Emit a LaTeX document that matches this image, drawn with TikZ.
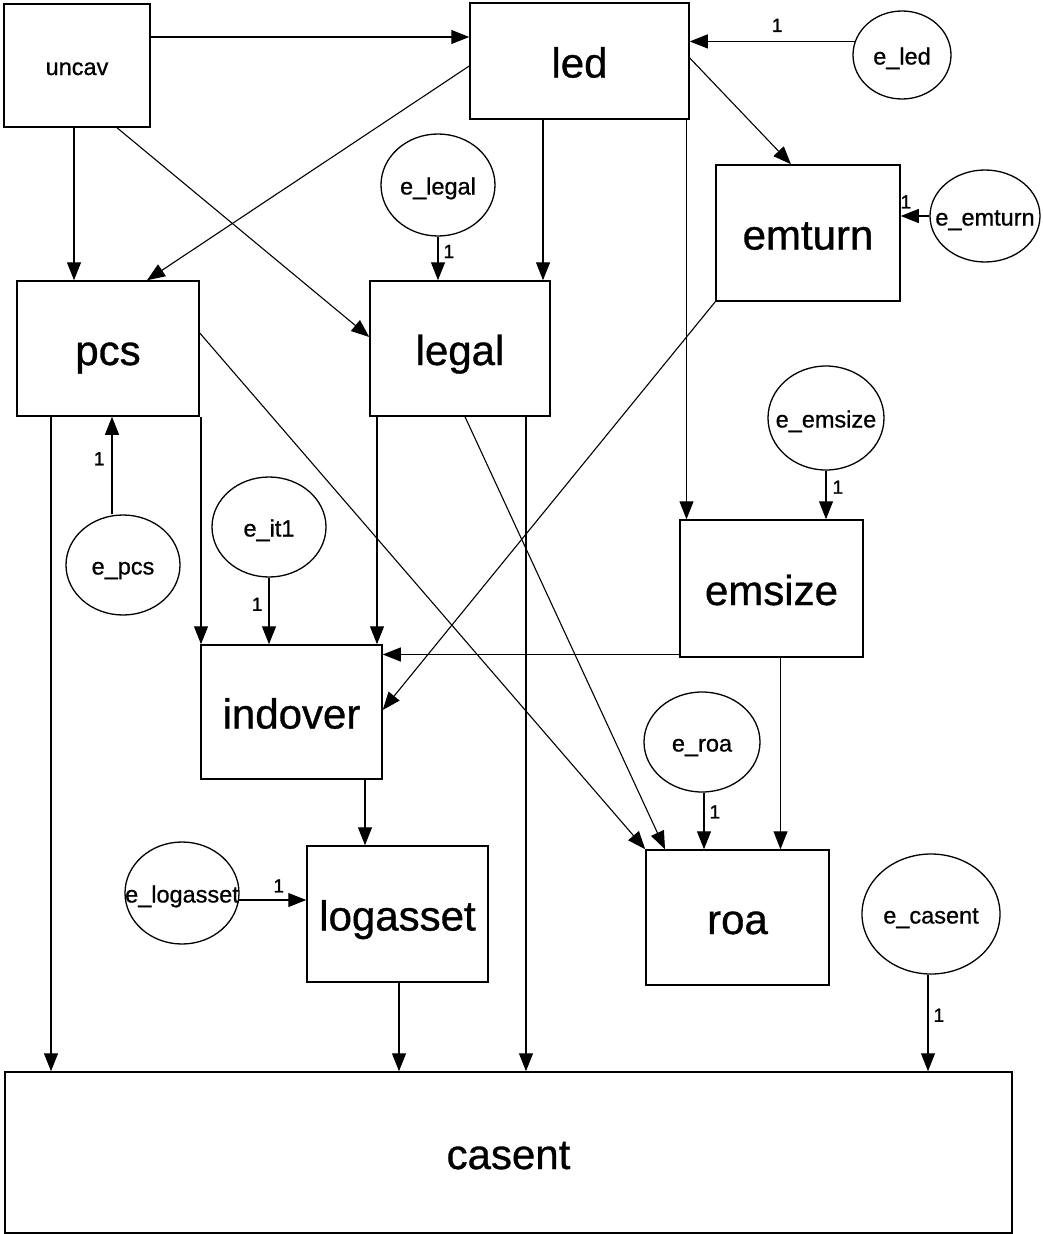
\documentclass[tikz,border=0pt]{standalone}
\usepackage{fontspec}
\setmainfont{Liberation Sans}
% slightly heavier strokes for the printed labels
\newfontfamily\labelfont{Liberation Sans}[FakeBold=0.8]
\newfontfamily\loadfont{Liberation Sans}[FakeBold=1.4]
\usetikzlibrary{arrows.meta,shapes.geometric}
% zero-width label so that the ellipse keeps its own size
\newcommand{\zw}[1]{\makebox[0pt][c]{#1}}
\begin{document}
\begin{tikzpicture}[x=1pt,y=-1pt,
  obs/.style={draw, line width=1.5pt, rectangle, inner sep=0pt,
    font=\labelfont\fontsize{42}{42}\selectfont, text height=33pt, text depth=0pt},
  smallobs/.style={font=\labelfont\fontsize{23.5}{24}\selectfont, text height=19pt, text depth=0pt},
  err/.style={draw, line width=1.3pt, ellipse, inner sep=0pt,
    font=\labelfont\fontsize{23.5}{24}\selectfont, text height=19pt, text depth=0pt},
  conn/.style={line width=1.1pt, -{Triangle[length=18pt,width=14pt]}},
  one/.style={font=\loadfont\fontsize{19}{19}\selectfont, inner sep=0pt}
]
\useasboundingbox (0,0) rectangle (1042,1234);

% observed variables
\node[obs, smallobs, minimum width=146pt, minimum height=123pt] (uncav) at (77,65.5) {uncav};
\node[obs, minimum width=219pt, minimum height=116pt] (led) at (579.5,61) {led};
\node[obs, minimum width=184pt, minimum height=136pt] (emturn) at (808,233) {emturn};
\node[obs, minimum width=182pt, minimum height=135pt] (pcs) at (108,348.5) {pcs};
\node[obs, minimum width=180pt, minimum height=135pt] (legal) at (460,348.5) {legal};
\node[obs, minimum width=183pt, minimum height=137pt] (emsize) at (771.5,588.5) {emsize};
\node[obs, minimum width=181pt, minimum height=134pt] (indover) at (291.5,712) {indover};
\node[obs, minimum width=181pt, minimum height=136pt] (logasset) at (397.5,914) {logasset};
\node[obs, minimum width=183pt, minimum height=135pt] (roa) at (737.5,917.5) {roa};
\node[obs, minimum width=1007pt, minimum height=161pt] (casent) at (508.5,1152.5) {casent};

% error terms
\node[err, minimum width=98pt, minimum height=88pt] (eled) at (902,55) {\zw{e\_led}};
\node[err, minimum width=114pt, minimum height=102pt] (elegal) at (438,185) {\zw{e\_legal}};
\node[err, minimum width=110pt, minimum height=92pt] (eemturn) at (985,216) {\zw{e\_emturn}};
\node[err, minimum width=116pt, minimum height=104pt] (eemsize) at (826,418) {\zw{e\_emsize}};
\node[err, minimum width=114pt, minimum height=100pt] (epcs) at (123,565) {\zw{e\_pcs}};
\node[err, minimum width=114pt, minimum height=100pt] (eit) at (269,527) {\zw{e\_it1}};
\node[err, minimum width=116pt, minimum height=100pt] (eroa) at (702,742) {\zw{e\_roa}};
\node[err, minimum width=114pt, minimum height=102pt] (elogasset) at (182,893) {\zw{e\_logasset}};
\node[err, minimum width=138pt, minimum height=120pt] (ecasent) at (931,914) {\zw{e\_casent}};

% structural paths
\draw[conn] ([yshift=28.5pt]uncav.east) -- ([yshift=28.5pt]uncav.east -| led.west);
\draw[conn] ([xshift=-3pt]uncav.south) -- ([xshift=-3pt]uncav.south |- pcs.north);
\draw[conn] ([xshift=40pt]uncav.south) -- ([yshift=11.5pt]legal.west);
\draw[conn] ([yshift=-5pt]led.west) -- ([xshift=39pt]pcs.north);
\draw[conn] ([xshift=-36.5pt]led.south) -- ([xshift=-36.5pt]led.south |- legal.north);
\draw[conn] ([xshift=107pt]led.south) -- ([xshift=107pt]led.south |- emsize.north);
\draw[conn] ([yshift=3pt]led.east) -- ([xshift=-17pt]emturn.north);
\draw[conn] (emturn.south west) -- ([yshift=2pt]indover.east);
\draw[conn] ([yshift=15.5pt]pcs.east) -- (roa.north west);
\draw[conn] ([xshift=93pt]pcs.south) -- ([xshift=93pt]pcs.south |- indover.north);
\draw[conn] ([xshift=-57pt]pcs.south) -- ([xshift=-57pt]pcs.south |- casent.north);
\draw[conn] ([xshift=-83pt]legal.south) -- ([xshift=-83pt]legal.south |- indover.north);
\draw[conn] ([xshift=5pt]legal.south) -- ([xshift=-72.5pt]roa.north);
\draw[conn] ([xshift=66pt]legal.south) -- ([xshift=66pt]legal.south |- casent.north);
\draw[conn] ([yshift=-66pt]emsize.west) -- ([yshift=-66pt]emsize.west -| indover.east);
\draw[conn] ([xshift=9pt]emsize.south) -- ([xshift=9pt]emsize.south |- roa.north);
\draw[conn] ([xshift=73.5pt]indover.south) -- ([xshift=73.5pt]indover.south |- logasset.north);
\draw[conn] ([xshift=1.5pt]logasset.south) -- ([xshift=1.5pt]logasset.south |- casent.north);

% error paths with fixed loadings
\draw[conn] (eled.164.5) -- node[one, above=9pt, pos=0.47] {1} (eled.164.5 -| led.east);
\draw[conn] (elegal.south) -- node[one, right=5pt, pos=0.34] {1} (elegal.south |- legal.north);
\draw[conn] (eemturn.west) -- node[one, above=7pt, pos=0.82] {1} (eemturn.west -| emturn.east);
\draw[conn] (eemsize.south) -- node[one, right=6pt, pos=0.34] {1} (eemsize.south |- emsize.north);
\draw[conn] ([xshift=-11pt]epcs.north) -- node[one, left=7pt, pos=0.57] {1} ([xshift=-11pt]epcs.north |- pcs.south);
\draw[conn] (eit.south) -- node[one, left=6pt, pos=0.40] {1} (eit.south |- indover.north);
\draw[conn] ([xshift=2pt]eroa.south) -- node[one, right=5pt, pos=0.34] {1} ([xshift=2pt]eroa.south |- roa.north);
\draw[conn] (elogasset.-7) -- node[one, above=7pt, pos=0.59] {1} (elogasset.-7 -| logasset.west);
\draw[conn] ([xshift=-3pt]ecasent.south) -- node[one, right=5pt, pos=0.42] {1} ([xshift=-3pt]ecasent.south |- casent.north);
\end{tikzpicture}
\end{document}
